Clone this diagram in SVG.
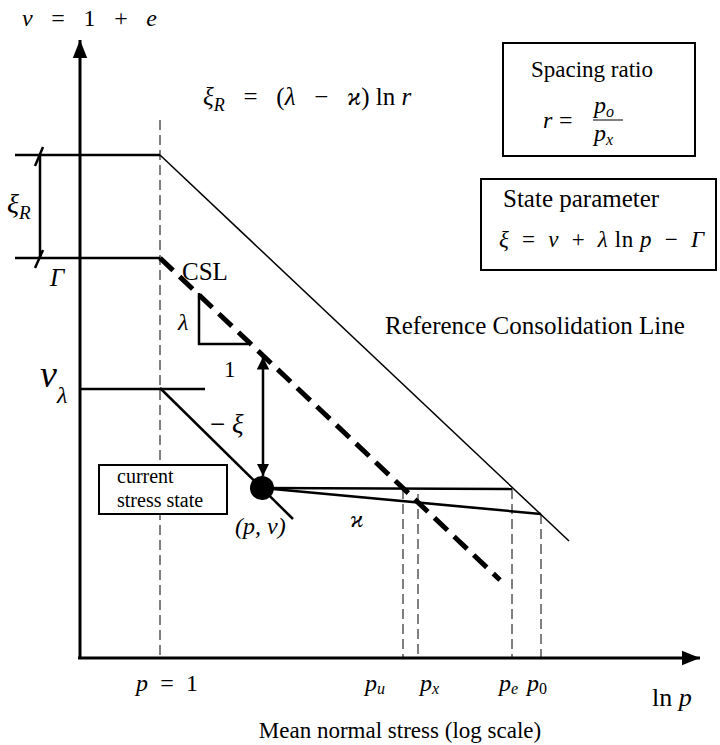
<svg xmlns="http://www.w3.org/2000/svg" width="720" height="745" viewBox="0 0 720 745">
<defs>
<style>
text{font-family:"Liberation Serif","Times New Roman",serif;fill:#000}
.it{font-style:italic}
.thin{stroke:#000;stroke-width:1.5;fill:none}
.mid{stroke:#000;stroke-width:2.5;fill:none}
.axis{stroke:#000;stroke-width:3;fill:none}
.dash{stroke:#000;stroke-width:1;fill:none;stroke-dasharray:10 5}
.csl{stroke:#000;stroke-width:5;fill:none;stroke-dasharray:18 9}
.box{fill:#fff;stroke:#000;stroke-width:2}
</style>
<marker id="ah" viewBox="0 0 10 10" refX="10" refY="5" markerWidth="5" markerHeight="5" orient="auto-start-reverse" markerUnits="strokeWidth">
<path d="M0,0 L10,5 L0,10 z" fill="#000"/>
</marker>
<marker id="axh" viewBox="0 0 10 10" refX="10" refY="5" markerWidth="6" markerHeight="6" orient="auto" markerUnits="strokeWidth">
<path d="M0,1 L10,5 L0,9 z" fill="#000"/>
</marker>
</defs>

<g id="connectors">
<line class="axis" x1="80" y1="658" x2="80" y2="40" marker-end="url(#axh)"/>
<line class="axis" x1="78" y1="658" x2="700" y2="658" marker-end="url(#axh)"/>
<line class="dash" x1="160" y1="120" x2="160" y2="658"/>
<line class="dash" x1="403" y1="489" x2="403" y2="658"/>
<line class="dash" x1="418" y1="494" x2="418" y2="658"/>
<line class="dash" x1="512" y1="489" x2="512" y2="658"/>
<line class="dash" x1="541" y1="514" x2="541" y2="658"/>
<line class="mid" x1="15" y1="155" x2="160" y2="155"/>
<line class="thin" x1="160" y1="155" x2="569" y2="541"/>
<line class="mid" x1="15" y1="258" x2="160" y2="258"/>
<line class="csl" x1="160" y1="258" x2="500" y2="580"/>
<line class="mid" x1="40" y1="155" x2="40" y2="258"/>
<line class="mid" x1="35" y1="166" x2="43" y2="147"/>
<line class="mid" x1="35" y1="268" x2="43" y2="250"/>
<polyline class="mid" points="199,293 199,344 248,344"/>
<line class="mid" x1="80" y1="389" x2="205" y2="389"/>
<line class="mid" x1="160" y1="388" x2="293" y2="519"/>
<line class="mid" x1="262" y1="488" x2="512" y2="489"/>
<line class="mid" x1="262" y1="488" x2="541" y2="514"/>
<line class="mid" x1="263" y1="476" x2="263" y2="357" marker-start="url(#ah)" marker-end="url(#ah)"/>
</g>

<g id="state-point">
<circle cx="262" cy="488" r="12" fill="#000"/>
<text class="it" x="235" y="534" font-size="24">(p, v)</text>
</g>

<g id="current-stress-box">
<rect class="box" x="99" y="465" width="128" height="49"/>
<text x="117" y="483" font-size="20">current</text>
<text x="117" y="507" font-size="20">stress state</text>
</g>

<g id="spacing-ratio">
<rect class="box" x="503" y="43" width="192" height="113"/>
<text x="592" y="77" font-size="23" text-anchor="middle">Spacing ratio</text>
<text class="it" x="543" y="128" font-size="24">r</text>
<text x="559" y="128" font-size="24">=</text>
<text class="it" x="594" y="113" font-size="24">p<tspan font-size="16" dy="4">o</tspan></text>
<line x1="593" y1="120" x2="623" y2="120" stroke="#000" stroke-width="1"/>
<text class="it" x="594" y="141" font-size="24">p<tspan font-size="16" dy="4">x</tspan></text>
</g>

<g id="state-parameter">
<rect class="box" x="481" y="179" width="235" height="91"/>
<text x="503" y="207" font-size="25">State parameter</text>
<text x="499" y="247" font-size="23" xml:space="preserve" textLength="205" lengthAdjust="spacing"><tspan class="it">ξ</tspan>  =  <tspan class="it">v</tspan>  +  <tspan class="it">λ</tspan> ln <tspan class="it">p</tspan>  −  <tspan class="it">Γ</tspan></text>
</g>

<g id="labels">
<text x="22" y="26" font-size="24" xml:space="preserve" textLength="135" lengthAdjust="spacing"><tspan class="it">v</tspan>  =  1  +  <tspan class="it">e</tspan></text>
<text x="203" y="105" font-size="25" xml:space="preserve"><tspan class="it">ξ</tspan><tspan class="it" font-size="18" dy="6">R</tspan><tspan dy="-6">   =   (</tspan><tspan class="it">λ</tspan>   −   <tspan class="it">ϰ</tspan>) ln <tspan class="it">r</tspan></text>
<text x="7" y="213" font-size="28" class="it">ξ<tspan font-size="19" dy="6">R</tspan></text>
<text x="50" y="286" font-size="25" class="it">Γ</text>
<text x="182" y="280" font-size="25">CSL</text>
<text x="178" y="330" font-size="24" class="it">λ</text>
<text x="224" y="377" font-size="23">1</text>
<text x="385" y="334" font-size="25">Reference Consolidation Line</text>
<text x="40" y="387" font-size="38" class="it">v<tspan font-size="24" dy="16">λ</tspan></text>
<text x="210" y="433" font-size="27" xml:space="preserve">− <tspan class="it">ξ</tspan></text>
<text x="350" y="527" font-size="24" class="it">ϰ</text>
<text x="136" y="691" font-size="24" xml:space="preserve" textLength="62" lengthAdjust="spacing"><tspan class="it">p</tspan>  =  1</text>
<text x="365" y="691" font-size="24" class="it">p<tspan font-size="16" dy="3">u</tspan></text>
<text x="420" y="691" font-size="24" class="it">p<tspan font-size="16" dy="3">x</tspan></text>
<text x="499" y="691" font-size="24" class="it">p<tspan font-size="16" dy="3">e</tspan></text>
<text x="527" y="691" font-size="24" class="it">p<tspan font-size="16" dy="3" font-style="normal">0</tspan></text>
<text x="652" y="706" font-size="26">ln <tspan class="it">p</tspan></text>
<text x="400" y="738" font-size="23" text-anchor="middle">Mean normal stress (log scale)</text>
</g>
</svg>
